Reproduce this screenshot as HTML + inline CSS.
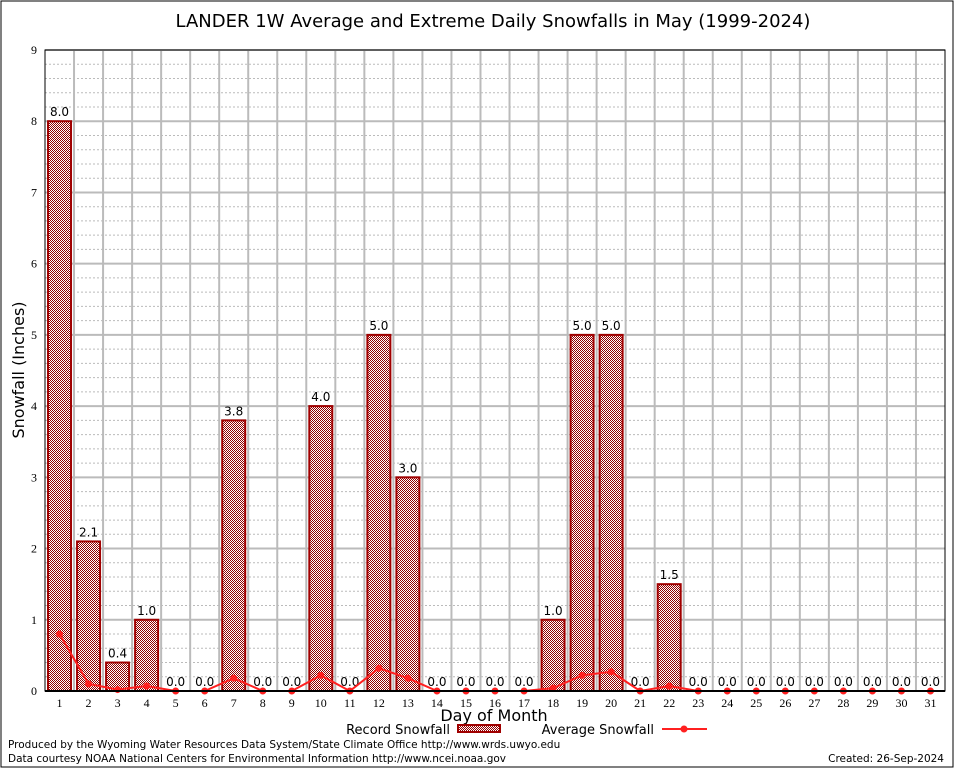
<!DOCTYPE html>
<html><head><meta charset="utf-8"><style>
body{margin:0;background:#fff}
svg{display:block;font-family:"DejaVu Sans","Liberation Sans",sans-serif}
</style></head><body>
<svg id="chart" width="954" height="768" viewBox="0 0 954 768">
<defs>
<pattern id="chk" width="2" height="2" patternUnits="userSpaceOnUse">
<rect width="2" height="2" fill="#fff"/><rect width="1" height="1" fill="#900000"/><rect x="1" y="1" width="1" height="1" fill="#900000"/>
</pattern>
</defs>
<rect x="1" y="1" width="952" height="766" fill="#fff" stroke="#000" stroke-width="1"/>
<text x="493" y="27" font-size="18" text-anchor="middle">LANDER 1W Average and Extreme Daily Snowfalls in May (1999-2024)</text>
<g id="grid"></g>
<g id="bars"></g>
<g id="avg"></g>
<g id="axes"></g>
<text x="24" y="370" font-size="16" text-anchor="middle" transform="rotate(-90 24 370)">Snowfall (Inches)</text>
<text x="494" y="721" font-size="16" text-anchor="middle">Day of Month</text>
<g>
<text x="450" y="734" font-size="13" text-anchor="end">Record Snowfall</text>
<rect x="458" y="725" width="42" height="7" fill="url(#chk)" stroke="#a00000" stroke-width="2"/>
</g>
<g>
<text x="654" y="734" font-size="13" text-anchor="end">Average Snowfall</text>
<line x1="662" y1="729" x2="707" y2="729" stroke="#ff2020" stroke-width="2"/>
<circle cx="684" cy="729" r="3.5" fill="#ff2020"/>
</g>
<text x="8" y="748" font-size="10.5">Produced by the Wyoming Water Resources Data System/State Climate Office http://www.wrds.uwyo.edu</text>
<text x="8" y="762" font-size="10.5">Data courtesy NOAA National Centers for Environmental Information http://www.ncei.noaa.gov</text>
<text x="944" y="762" font-size="10.5" text-anchor="end">Created: 26-Sep-2024</text>
</svg>
<script>
const days=[1,2,3,4,5,6,7,8,9,10,11,12,13,14,15,16,17,18,19,20,21,22,23,24,25,26,27,28,29,30,31];
const recordVals=[8.0,2.1,0.4,1.0,0,0,3.8,0,0,4.0,0,5.0,3.0,0,0,0,0,1.0,5.0,5.0,0,1.5,0,0,0,0,0,0,0,0,0];
const avgVals=[0.8,0.1,0.02,0.07,0,0,0.18,0,0,0.22,0,0.32,0.18,0,0,0,0,0.04,0.22,0.27,0,0.07,0,0,0,0,0,0,0,0,0];
const yTicks=[0,1,2,3,4,5,6,7,8,9];
const NS="http://www.w3.org/2000/svg";
const L=45,R=945,T=50,B=691,ymax=9;
const xc=d=>L+(d-0.5)*(R-L)/31;
const y=v=>B-v*(B-T)/ymax;
function mk(tag,attrs,parent){const e=document.createElementNS(NS,tag);for(const k in attrs)e.setAttribute(k,attrs[k]);parent.appendChild(e);return e;}
const grid=document.getElementById('grid'),bars=document.getElementById('bars'),avg=document.getElementById('avg'),axes=document.getElementById('axes');
for(let v=0;v<ymax;v+=0.2){if(Math.abs(v-Math.round(v))<0.01)continue;const g=mk('line',{x1:L,x2:R,y1:y(v),y2:y(v),stroke:'#bbb','stroke-dasharray':'2,2','stroke-width':1},grid);
}
yTicks.forEach(v=>{const g=mk('line',{x1:L,x2:R,y1:y(v),y2:y(v),stroke:'#bbb','stroke-width':2},grid);

const t=mk('text',{x:L-8,y:y(v)+4,'font-size':12,'text-anchor':'end','font-family':'Liberation Serif, serif'},axes);t.textContent=v;
});
for(let k=1;k<31;k++){const xx=L+k*(R-L)/31;const g=mk('line',{x1:xx,x2:xx,y1:T,y2:B,stroke:'#bbb','stroke-width':2},grid);
}
days.forEach((d,i)=>{const v=recordVals[i];const cx=xc(d);
if(v>0){const r=mk('rect',{x:cx-11.5,y:y(v),width:23,height:B-y(v),fill:'url(#chk)',stroke:'#a00000','stroke-width':2},bars);
}
const t=mk('text',{x:cx,y:y(v)-5,'font-size':12,'text-anchor':'middle'},bars);t.textContent=v.toFixed(1);

const tl=mk('text',{x:cx,y:B+16,'font-size':12,'text-anchor':'middle','font-family':'Liberation Serif, serif'},axes);tl.textContent=d;
});
const pts=days.map((d,i)=>xc(d)+','+y(avgVals[i])).join(' ');
const pl=mk('polyline',{points:pts,fill:'none',stroke:'#ff2020','stroke-width':2},avg);

days.forEach((d,i)=>{const c=mk('circle',{cx:xc(d),cy:y(avgVals[i]),r:3.5,fill:'#ff2020'},avg);
});
const f=mk('rect',{x:L,y:T,width:R-L,height:B-T,fill:'none',stroke:'#000','stroke-width':1},axes);

const xa=mk('line',{x1:L,x2:R,y1:B,y2:B,stroke:'#000','stroke-width':2},axes);

</script>
</body></html>
